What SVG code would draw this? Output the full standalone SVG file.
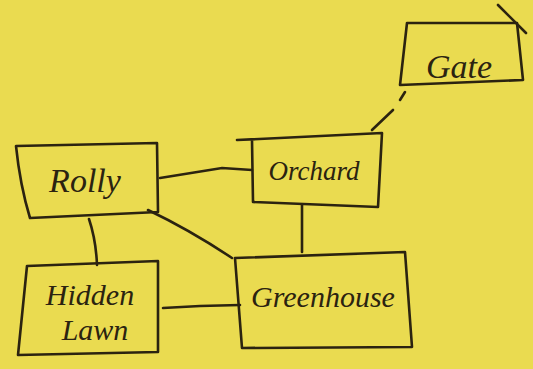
<svg xmlns="http://www.w3.org/2000/svg" width="533" height="369" viewBox="0 0 533 369">
<style>
.box{fill:none;stroke:#2b2310;stroke-width:2.6;stroke-linejoin:round;stroke-linecap:round}
.edge{fill:none;stroke:#2b2310;stroke-width:2.6;stroke-linecap:round}
.lbl{font-family:"Liberation Serif",serif;font-style:italic;fill:#2b2310;text-anchor:middle}
</style>
<rect width="533" height="369" fill="#EADB50"/>
<g id="connectors">
<path class="edge" d="M160,178 L222,168 L252,170"/>
<path class="edge" d="M148,210 Q190,230 232,258"/>
<path class="edge" d="M89,219 Q96,240 97,265"/>
<path class="edge" d="M163,308 L200,306 L240,305"/>
<path class="edge" d="M302,205 L302,252"/>
<path class="edge" d="M372,130 L393,110"/>
<path class="edge" d="M400,100 L405,92"/>
</g>
<g id="rolly">
<path class="box" d="M16,146 L157,143 L158,212 L30,218 Q20,185 16,146 Z"/>
<text class="lbl" x="85" y="192" font-size="34">Rolly</text>
</g>
<g id="orchard">
<path class="box" d="M237,140 L382,133 L378,207 L253,202 L252,140"/>
<text class="lbl" x="314" y="180" font-size="27">Orchard</text>
</g>
<g id="gate">
<path class="box" d="M407,23 L517,23 L523,80 L400,85 L407,23 Z"/>
<path class="edge" d="M498,5 L526,33" stroke-width="3.5"/>
<text class="lbl" x="459" y="78" font-size="34">Gate</text>
</g>
<g id="greenhouse">
<path class="box" d="M235,258 L405,252 L412,347 L242,348 Z"/>
<text class="lbl" x="323" y="307" font-size="30">Greenhouse</text>
</g>
<g id="hidden-lawn">
<path class="box" d="M27,266 L158,261 L158,352 L18,355 Z"/>
<text class="lbl" x="90" y="305" font-size="30">Hidden</text>
<text class="lbl" x="95" y="340" font-size="30">Lawn</text>
</g>
</svg>
